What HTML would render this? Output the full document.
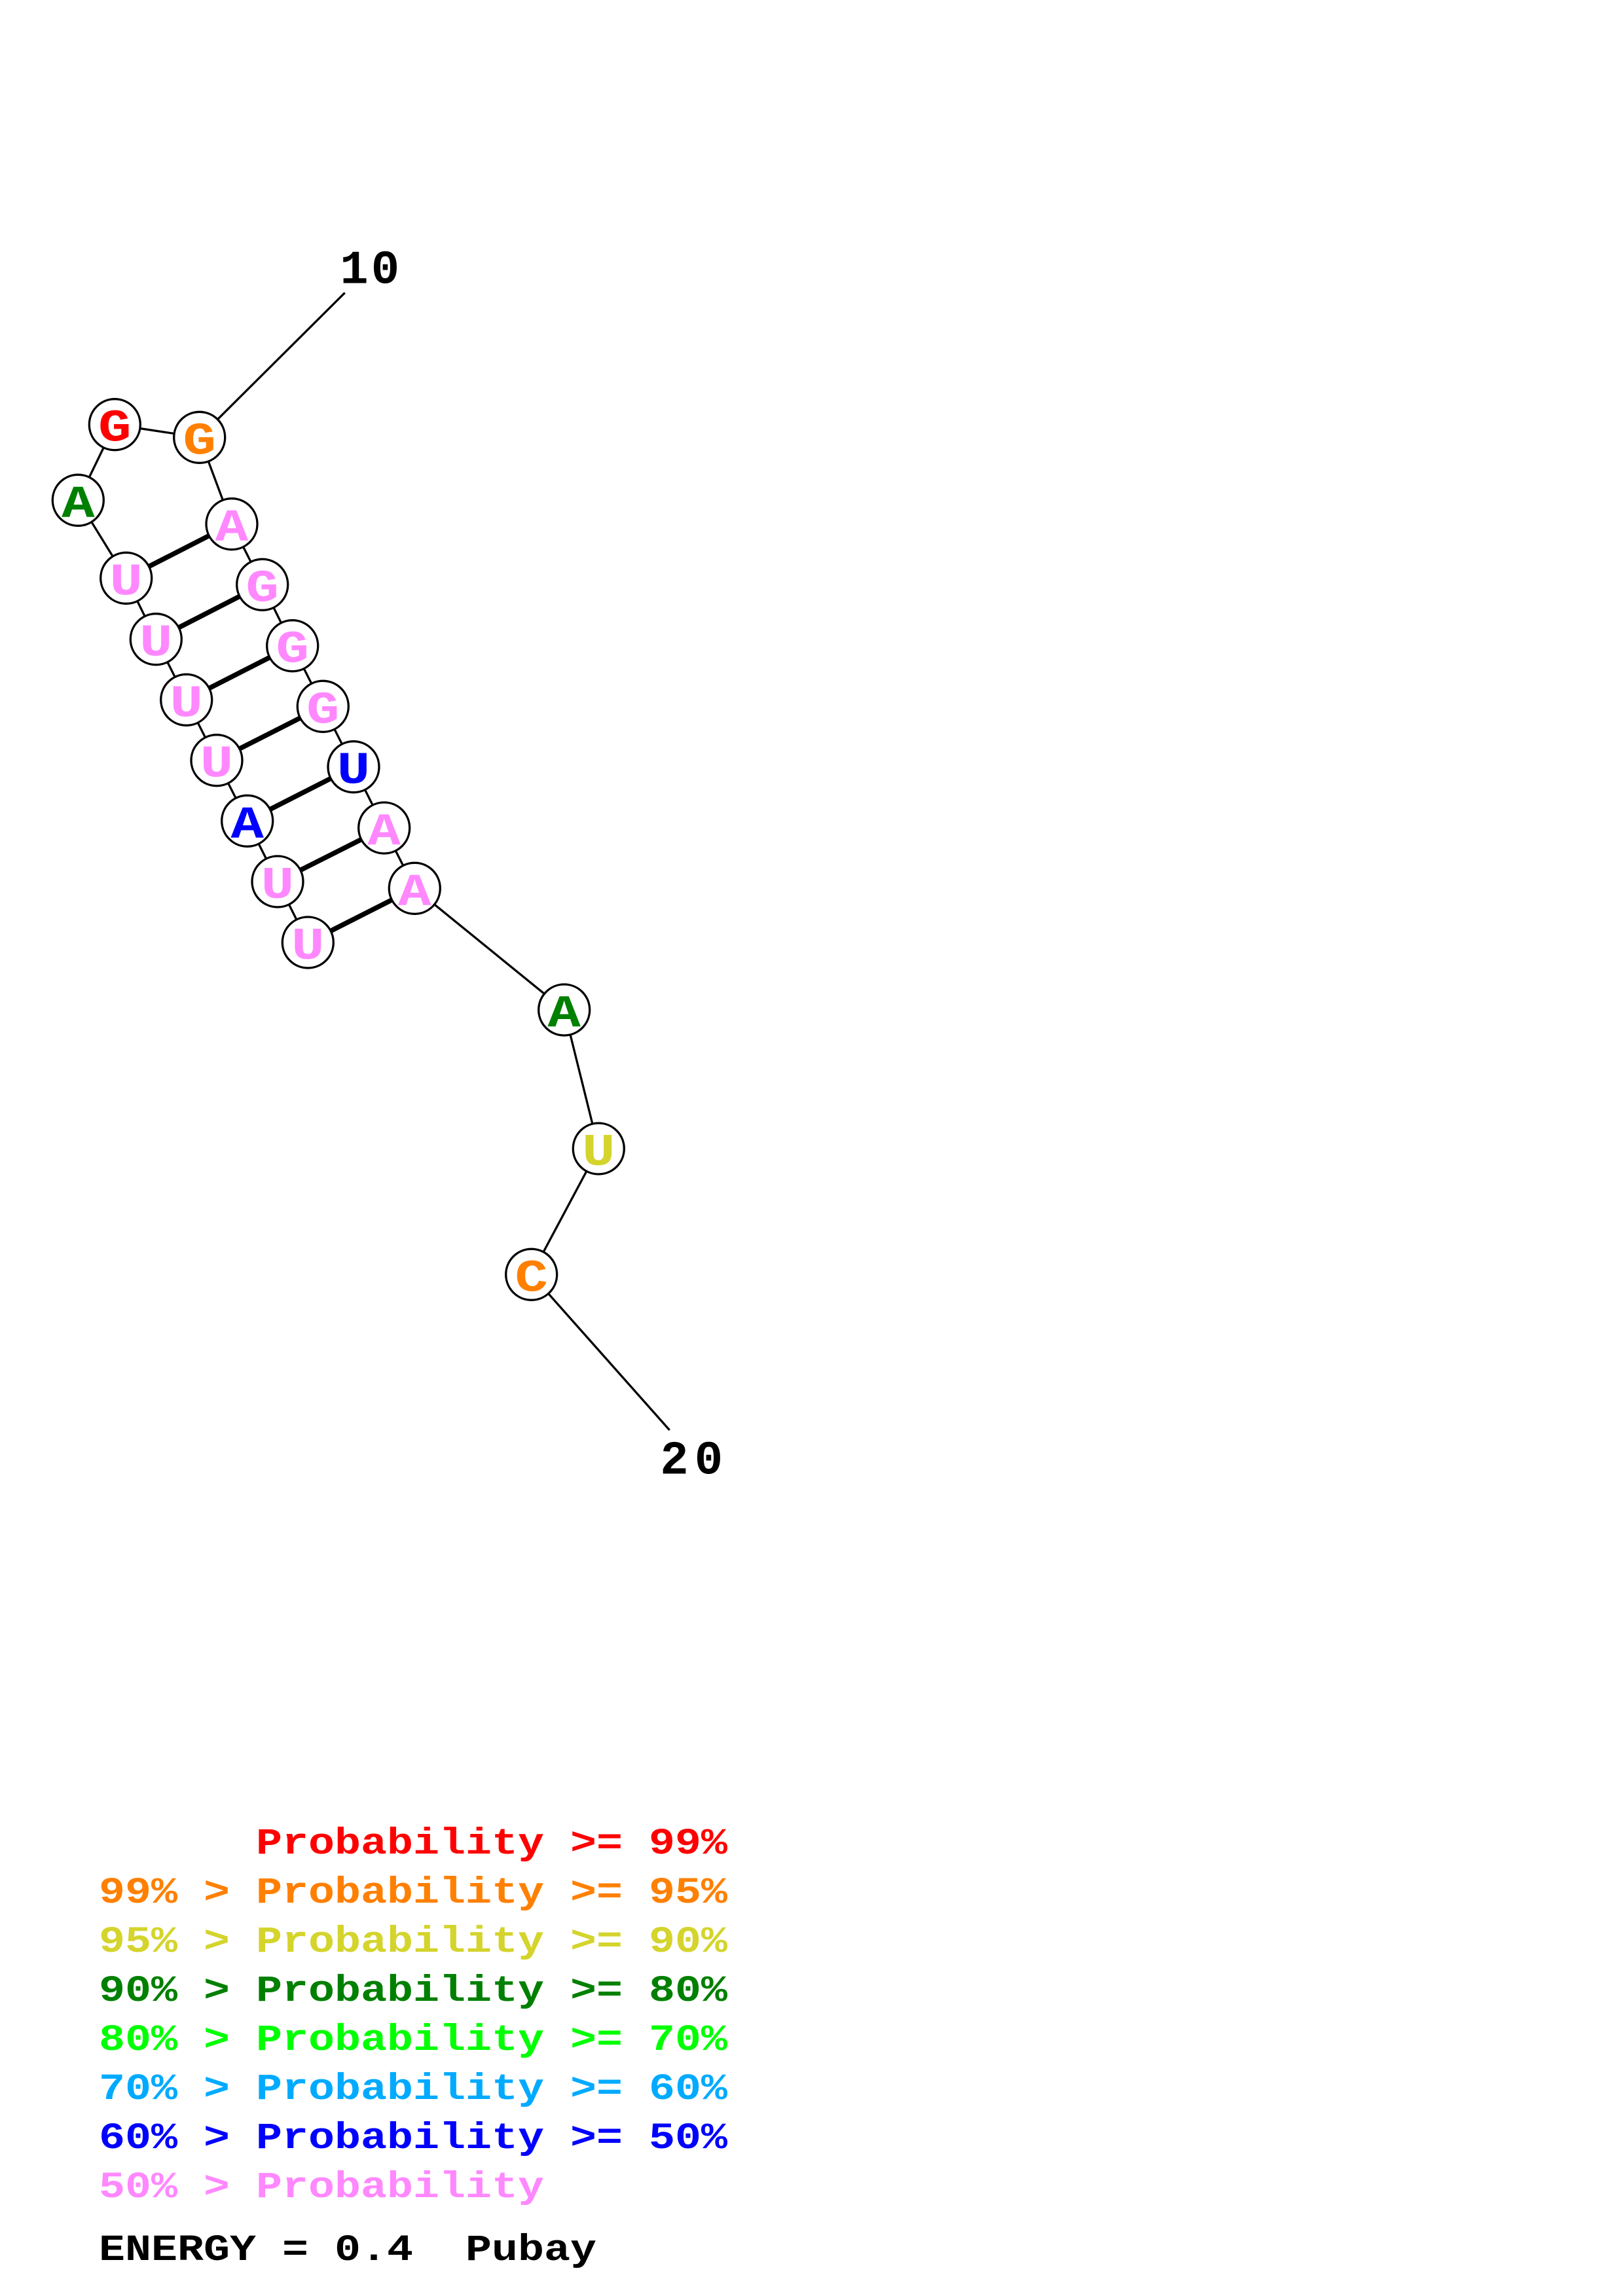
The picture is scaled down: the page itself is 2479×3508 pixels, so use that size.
<!DOCTYPE html>
<html>
<head>
<meta charset="utf-8">
<style>
  html, body { margin: 0; padding: 0; background: #ffffff; }
  svg { display: block; }
  text { font-family: "Liberation Mono", "DejaVu Sans Mono", monospace; font-weight: bold; white-space: pre; }
</style>
</head>
<body>
<svg xmlns="http://www.w3.org/2000/svg" width="2479" height="3508" viewBox="0 0 2479 3508" xml:space="preserve">
  <rect x="0" y="0" width="2479" height="3508" fill="#ffffff"/>

  <!-- backbone -->
  <g stroke="#000" stroke-width="3.3" fill="none" stroke-linecap="butt">
    <path d="M470.3 1440 L424 1347 L377.7 1254.3 L331 1161.7 L284.7 1069.3 L238.3 976.7 L192.7 883.3 L119.3 764.3 L175.3 648.7 L304.7 668.3 L354 800.7 L400.7 893.3 L446.7 986.7 L493.3 1079.3 L540 1171.7 L586.7 1265 L633.3 1357.3 L861.7 1543 L914.3 1755 L811.7 1947.3 L1022.7 2185"/>
    <path d="M304.7 668.3 L526.7 447.3"/>
  </g>

  <!-- base pairs -->
  <g stroke="#000" stroke-width="7.5" fill="none">
    <line x1="192.7" y1="883.3" x2="354" y2="800.7"/>
    <line x1="238.3" y1="976.7" x2="400.7" y2="893.3"/>
    <line x1="284.7" y1="1069.3" x2="446.7" y2="986.7"/>
    <line x1="331" y1="1161.7" x2="493.3" y2="1079.3"/>
    <line x1="377.7" y1="1254.3" x2="540" y2="1171.7"/>
    <line x1="424" y1="1347" x2="586.7" y2="1265"/>
    <line x1="470.3" y1="1440" x2="633.3" y2="1357.3"/>
  </g>

  <!-- nucleotide circles -->
  <g stroke="#000" stroke-width="3.3" fill="#ffffff">
    <circle cx="470.3" cy="1440" r="39"/>
    <circle cx="424" cy="1347" r="39"/>
    <circle cx="377.7" cy="1254.3" r="39"/>
    <circle cx="331" cy="1161.7" r="39"/>
    <circle cx="284.7" cy="1069.3" r="39"/>
    <circle cx="238.3" cy="976.7" r="39"/>
    <circle cx="192.7" cy="883.3" r="39"/>
    <circle cx="119.3" cy="764.3" r="39"/>
    <circle cx="175.3" cy="648.7" r="39"/>
    <circle cx="304.7" cy="668.3" r="39"/>
    <circle cx="354" cy="800.7" r="39"/>
    <circle cx="400.7" cy="893.3" r="39"/>
    <circle cx="446.7" cy="986.7" r="39"/>
    <circle cx="493.3" cy="1079.3" r="39"/>
    <circle cx="540" cy="1171.7" r="39"/>
    <circle cx="586.7" cy="1265" r="39"/>
    <circle cx="633.3" cy="1357.3" r="39"/>
    <circle cx="861.7" cy="1543" r="39"/>
    <circle cx="914.3" cy="1755" r="39"/>
    <circle cx="811.7" cy="1947.3" r="39"/>
  </g>

  <!-- nucleotide letters -->
  <g font-size="70" text-anchor="middle">
    <text transform="translate(470.3 1465) scale(1.2 1)" fill="#FF88FF">U</text>
    <text transform="translate(424 1372) scale(1.2 1)" fill="#FF88FF">U</text>
    <text transform="translate(377.7 1279.3) scale(1.2 1)" fill="#0000FF">A</text>
    <text transform="translate(331 1186.7) scale(1.2 1)" fill="#FF88FF">U</text>
    <text transform="translate(284.7 1094.3) scale(1.2 1)" fill="#FF88FF">U</text>
    <text transform="translate(238.3 1001.7) scale(1.2 1)" fill="#FF88FF">U</text>
    <text transform="translate(192.7 908.3) scale(1.2 1)" fill="#FF88FF">U</text>
    <text transform="translate(119.3 789.3) scale(1.2 1)" fill="#008000">A</text>
    <text transform="translate(175.3 673.7) scale(1.2 1)" fill="#FF0000">G</text>
    <text transform="translate(304.7 693.3) scale(1.2 1)" fill="#FF8000">G</text>
    <text transform="translate(354 825.7) scale(1.2 1)" fill="#FF88FF">A</text>
    <text transform="translate(400.7 918.3) scale(1.2 1)" fill="#FF88FF">G</text>
    <text transform="translate(446.7 1011.7) scale(1.2 1)" fill="#FF88FF">G</text>
    <text transform="translate(493.3 1104.3) scale(1.2 1)" fill="#FF88FF">G</text>
    <text transform="translate(540 1196.7) scale(1.2 1)" fill="#0000FF">U</text>
    <text transform="translate(586.7 1290) scale(1.2 1)" fill="#FF88FF">A</text>
    <text transform="translate(633.3 1382.3) scale(1.2 1)" fill="#FF88FF">A</text>
    <text transform="translate(861.7 1568) scale(1.2 1)" fill="#008000">A</text>
    <text transform="translate(914.3 1780) scale(1.2 1)" fill="#D4D42C">U</text>
    <text transform="translate(811.7 1972.3) scale(1.2 1)" fill="#FF8000">C</text>
  </g>

  <!-- position labels -->
  <g font-size="72" text-anchor="middle" fill="#000">
    <text x="541" y="432.7">1</text>
    <text x="588.5" y="432.7">0</text>
    <text x="1030" y="2251.7">2</text>
    <text x="1082.5" y="2251.7">0</text>
  </g>

  <!-- legend -->
  <g font-size="66.67">
    <text transform="translate(391 2832) scale(1 0.85)" fill="#FF0000">Probability &gt;= 99%</text>
    <text transform="translate(151 2907) scale(1 0.85)" fill="#FF8000">99% &gt; Probability &gt;= 95%</text>
    <text transform="translate(151 2982) scale(1 0.85)" fill="#D4D42C">95% &gt; Probability &gt;= 90%</text>
    <text transform="translate(151 3057) scale(1 0.85)" fill="#008000">90% &gt; Probability &gt;= 80%</text>
    <text transform="translate(151 3132) scale(1 0.85)" fill="#00FF00">80% &gt; Probability &gt;= 70%</text>
    <text transform="translate(151 3207) scale(1 0.85)" fill="#00AAFF">70% &gt; Probability &gt;= 60%</text>
    <text transform="translate(151 3282) scale(1 0.85)" fill="#0000FF">60% &gt; Probability &gt;= 50%</text>
    <text transform="translate(151 3357) scale(1 0.85)" fill="#FF88FF">50% &gt; Probability</text>
    <text transform="translate(151 3453) scale(1 0.85)" fill="#000000">ENERGY = 0.4  Pubay</text>
  </g>
</svg>
</body>
</html>
